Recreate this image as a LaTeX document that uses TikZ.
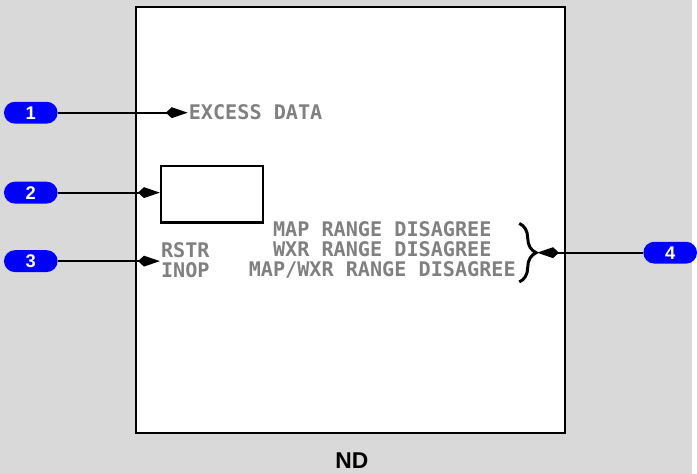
\documentclass[tikz,border=0pt]{standalone}
\usepackage{fontspec}
\setmainfont{Liberation Sans}
\newfontfamily\dispfont{DejaVu Sans Mono}
\usetikzlibrary{arrows.meta,decorations.pathreplacing}
\definecolor{bggray}{HTML}{D9D9D9}
\definecolor{dispgray}{HTML}{808080}
\definecolor{badgeblue}{HTML}{0000FF}

\begin{document}
\begin{tikzpicture}[
    x=1pt,y=-1pt,
    badge/.style={fill=badgeblue,rounded corners=11pt,minimum width=54pt,minimum height=22pt,
      inner sep=0pt,text=white,font=\bfseries\fontsize{18.5}{18.5}\selectfont},
    disp/.style={text=dispgray,inner sep=1pt,font=\dispfont\bfseries\fontsize{20.3}{20}\selectfont},
    arr/.style={-{Kite[length=22pt,width=11pt,inset=6pt]},line width=2.2pt},
    frame/.style={draw,line width=2.2pt}
]
% background and display face
\fill[bggray] (0,0) rectangle (697,477);
\draw[frame,fill=white] (137,7) rectangle (569,436);
% display texts
\node[disp,anchor=west] (excess) at (189,113) {EXCESS DATA};
\node[frame,anchor=north west,minimum width=103pt,minimum height=57pt] (window) at (161,166) {};
\node[disp,anchor=west,align=left] (rstr) at (161,262) {RSTR\\INOP};
\node[disp,align=center] (disagree) at (385,252) {MAP RANGE DISAGREE\\WXR RANGE DISAGREE\\MAP/WXR RANGE DISAGREE};
\coordinate (bracetop) at (523,225);
\coordinate (bracebot) at (523,284);
\coordinate (bracetip) at (541,254.5);
\draw[line width=3pt,decorate,decoration={brace,amplitude=17pt}] (bracetop) -- (bracebot);
\node[anchor=base] (title) at (354.5,472) {\fontsize{23}{23}\selectfont\bfseries ND};
% callouts
\node[badge] (b1) at (31,113.5) {1};
\node[badge] (b2) at (31,194) {2};
\node[badge] (b3) at (31,263) {3};
\node[badge] (b4) at (675,254.5) {4};
\draw[arr] (b1.east) -- (b1.east -| excess.west);
\draw[arr] (b2.east) -- (b2.east -| window.west);
\draw[arr] (b3.east) -- (b3.east -| rstr.west);
\draw[arr] (b4.west) -- (bracetip);
\useasboundingbox (0,0) rectangle (697,477);
\end{tikzpicture}
\end{document}
